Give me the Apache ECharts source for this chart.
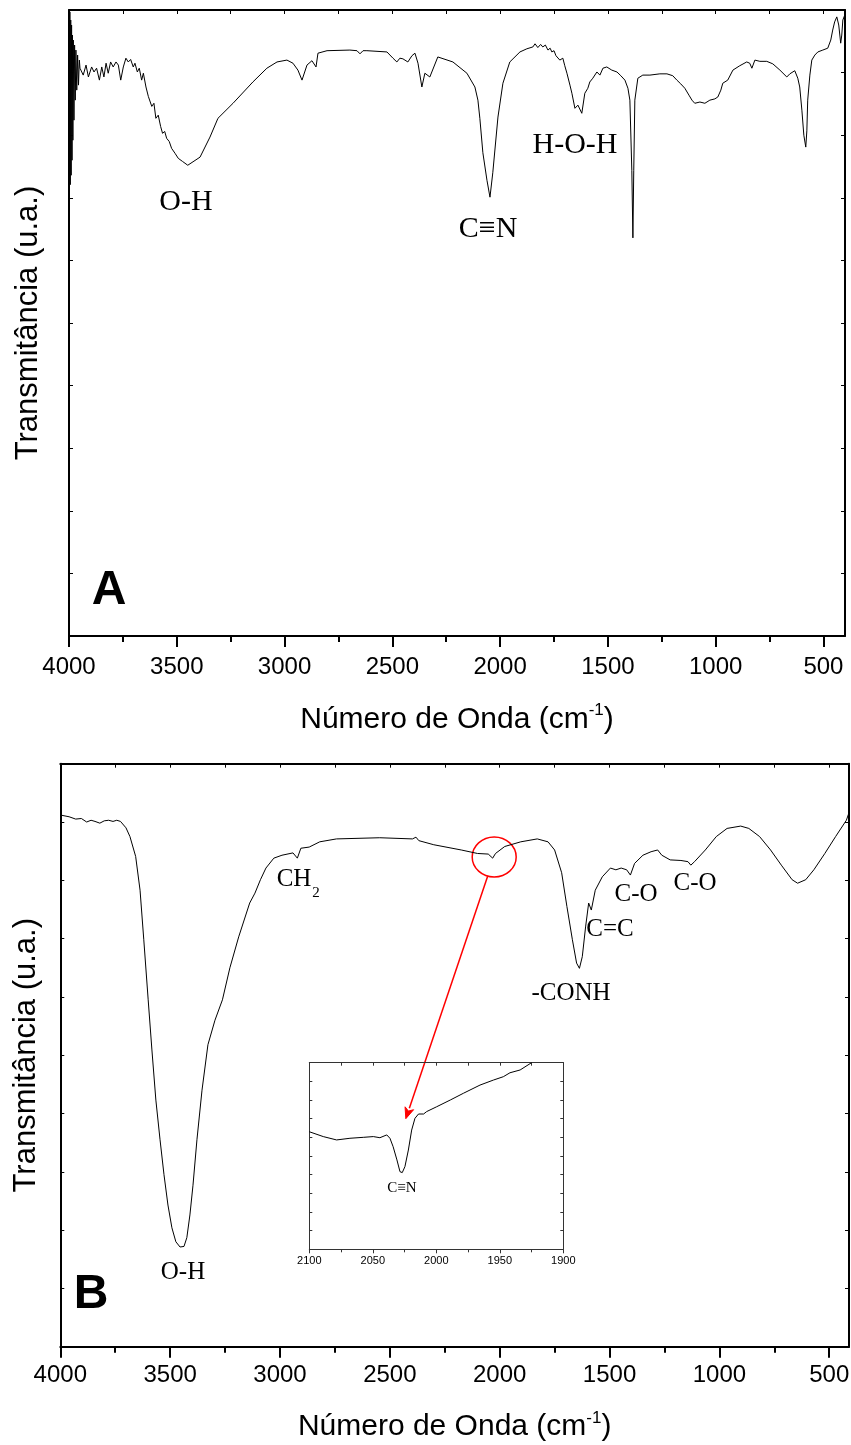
<!DOCTYPE html>
<html><head><meta charset="utf-8">
<script src="https://cdn.jsdelivr.net/npm/echarts@6/dist/echarts.min.js"></script>
<style>html,body{margin:0;padding:0;background:#fff}#c{width:851px;height:1445px}</style>
</head><body><div id="c"></div>
<script>
// ---------- DATA ----------
// Panel A : wavenumber (cm-1) and transmittance (a.u.)
const waveA = [4000,3998,3996,3994,3992,3990,3988,3986,3984,3982,3980,3977,3974,3971,3968,3964,3960,3956,3952,
3949,3934,3921,3910,3895,3884,3872,3859,3848,3838,3828,3818,3807,3795,3782,3771,3760,3748,3736,3725,3714,3702,3694,
3683,3674,3663,3655,3643,3632,3624,3616,3606,3597,3586,3575,3566,3556,3547,3535,3524,3508,3493,3473,3449,3392,3346,
3309,3239,3147,3082,3035,2989,2961,2938,2919,2896,2873,2854,2845,2803,2697,2664,2650,2636,2618,2525,2497,2479,2465,
2451,2428,2409,2395,2381,2363,2349,2326,2289,2219,2154,2117,2103,2094,2080,2061,2047,2034,2010,1987,1955,1908,1876,
1848,1838,1825,1812,1802,1790,1778,1768,1760,1750,1741,1732,1723,1709,1700,1690,1676,1667,1653,1639,1621,1607,1593,
1584,1570,1551,1537,1523,1505,1482,1458,1440,1421,1407,1398,1389,1384,1380,1375,1361,1338,1305,1259,1226,1199,1180,
1162,1143,1124,1110,1097,1073,1050,1027,1004,990,976,967,944,920,888,856,842,832,818,795,763,735,702,670,656,633,619,
610,600,591,582,577,573,563,554,540,526,503,480,466,457,448,438,429,420,415,410,401];
const transA = [100,71.3,99.7,72.1,98.4,73.6,97.6,76.0,96.0,79.2,95.2,82.4,94.4,85.6,93.6,87.2,92.8,88.0,92.0,
90.7,89.6,91.2,89.3,90.9,90.1,90.7,88.8,90.9,89.3,91.5,89.9,91.7,90.9,91.7,91.2,88.8,90.9,92.3,91.7,92.1,90.9,91.5,
90.1,90.7,88.8,89.9,87.7,86.2,86.4,84.6,85.1,82.7,83.2,81.4,80.3,80.6,79.5,79.0,77.9,77.1,76.3,75.8,75.2,76.5,79.7,
82.7,85.1,88.5,90.7,91.7,92.0,91.5,90.4,88.8,91.2,91.9,90.9,93.1,93.5,93.6,93.5,93.0,93.5,93.5,93.3,92.3,91.7,92.3,
92.2,91.7,92.7,93.1,91.5,87.7,89.9,89.3,92.5,91.7,89.9,87.7,85.6,82.7,77.2,72.8,70.1,74.0,82.9,88.3,91.7,93.3,93.8,
94.1,94.6,94.0,94.5,94.1,94.4,93.6,93.9,93.3,93.5,92.7,92.9,92.0,92.3,91.1,89.9,88.0,86.7,84.3,84.8,83.5,86.7,87.5,
88.5,89.1,90.1,89.6,90.7,90.9,90.4,90.1,89.5,88.8,87.5,85.6,74.4,63.6,74.4,85.6,89.1,89.6,89.6,89.8,89.8,89.5,88.8,
88.2,87.5,86.4,85.6,85.1,85.3,85.1,85.6,85.8,86.1,87.2,88.3,88.8,90.4,91.1,91.7,91.5,90.7,92.0,91.8,91.8,91.4,90.4,89.3,89.8,90.3,89.1,
87.7,84.0,80.0,78.1,80.7,85.6,89.6,92.0,92.8,93.3,93.6,93.9,95.2,96.8,98.1,98.9,97.6,94.7,96.0,98.4,99.2];

// Panel B
const waveB = [4000,3960,3930,3904,3880,3860,3842,3820,3800,3780,3760,3743,3726,3701,3683,3657,3637,3620,3600,3583,
3565,3546,3528,3510,3492,3474,3455,3437,3424,3410,3396,3378,3355,3328,3296,3262,3228,3188,3138,3114,3089,3064,3028,
2991,2941,2921,2905,2867,2819,2743,2546,2397,2381,2368,2300,2175,2101,2052,2032,2019,1977,1904,1829,1780,1750,1718,
1694,1669,1650,1637,1624,1609,1595,1583,1565,1533,1496,1471,1447,1422,1405,1386,1348,1311,1281,1262,1224,1175,1143,
1130,1113,1064,1014,965,903,866,817,767,718,669,644,607,570,520,471,422,410];
const transB = [91.2,90.9,90.5,90.6,90.0,90.3,90.1,89.8,90.2,90.3,90.1,90.3,90.1,89.0,87.5,84.1,78.3,69.8,59.5,50.9,
42.3,35.5,29.5,24.3,20.4,18.0,17.1,17.2,18.7,22.6,27.7,35.5,44.0,51.8,56.0,59.5,65.0,70.3,76.1,77.8,80.1,82.1,83.8,
84.3,84.7,83.8,85.5,85.7,86.6,87.1,87.3,87.1,87.4,86.8,86.1,85.2,84.6,84.5,83.8,84.6,85.8,86.6,87.1,86.6,85.2,81.3,
75.5,69.8,65.8,64.9,66.9,72.0,76.1,74.9,78.3,80.6,82.1,81.8,82.1,81.8,80.9,82.9,84.3,84.9,85.2,84.3,83.5,83.4,83.2,
82.6,83.2,85.2,87.5,88.9,89.3,88.9,87.5,85.2,82.6,80.1,79.5,80.1,81.8,84.6,87.5,90.3,91.6];

// Inset (zoom 2100-1900 cm-1)
const waveInset = [2100,2089,2078.5,2068,2057.5,2049.6,2044.4,2039,2036.5,2034,2031,2028.6,2026.8,2024.7,2022,
2019.4,2016.8,2014,2010,2007.6,1999.7,1989,1978.7,1965.6,1955,1947.2,1942,1934,1925];
const transInset = [63.0,60.4,58.6,59.5,60.0,60.4,59.8,61.3,59.5,55.0,47.9,41.6,41.1,44.3,53.2,63.9,70.2,72.5,72.5,
73.8,76.4,80.0,83.6,88.0,90.7,92.5,94.6,96.1,100];

// Tick values
const majorTicks = [500,1000,1500,2000,2500,3000,3500,4000];
const minorTicks = [750,1250,1750,2250,2750,3250,3750];
const allTicks = [500,750,1000,1250,1500,1750,2000,2250,2500,2750,3000,3250,3500,3750,4000];

// Annotation texts
const labelsA = ['O-H','C≡N','H-O-H'];
const labelsB = ['O-H','CH','-CONH','C=C','C-O','C-O'];
const circleAt = [2025, 84];      // panel B data coords of the highlighted band
const arrowTipAt = [2024, 70];    // inset data coords

// ---------- LAYOUT ----------
const SANS = 'Liberation Sans, Arial, sans-serif';
const SERIF = 'Liberation Serif, DejaVu Serif, Times New Roman, serif';
const gridA = {left:69, top:10, width:776, height:626};
const gridB = {left:60.3, top:763.7, width:788.7, height:583};
const gridI = {left:309.3, top:1062.7, width:254, height:186.6};

const zip = (xs, ys) => xs.map((x,i)=>[x, ys[i]]);
const black = '#000';
const plain = v => String(v);

function mainX(gi, xmin, gap, margin) {
  return [
    {type:'value', gridIndex:gi, min:xmin, max:4000, inverse:true, position:'bottom',
     axisLine:{show:true, onZero:false, lineStyle:{color:black, width:2}},
     axisTick:{show:true, inside:false, length:11, customValues:majorTicks, lineStyle:{color:black, width:2}},
     axisLabel:{show:true, customValues:majorTicks, formatter:plain, fontSize:24, color:black, fontFamily:SANS, margin:margin, hideOverlap:false},
     splitLine:{show:false},
     name:'Número de Onda (cm{sup|-1})', nameLocation:'middle', nameGap:gap,
     nameTextStyle:{fontSize:30, fontFamily:SANS, color:black, lineHeight:35,
       rich:{sup:{fontSize:17, lineHeight:17, verticalAlign:'top', fontFamily:SANS, color:black}}}},
    {type:'value', gridIndex:gi, min:xmin, max:4000, inverse:true, position:'bottom', offset:0,
     axisLine:{show:false}, axisTick:{show:true, inside:false, length:6, customValues:minorTicks, lineStyle:{color:black, width:2}},
     axisLabel:{show:false}, splitLine:{show:false}},
    {type:'value', gridIndex:gi, min:xmin, max:4000, inverse:true, position:'top',
     axisLine:{show:true, onZero:false, lineStyle:{color:black, width:2}},
     axisTick:{show:true, inside:true, length:4, customValues:allTicks, lineStyle:{color:black, width:1}},
     axisLabel:{show:false}, splitLine:{show:false}}
  ];
}
function mainY(gi, gap) {
  return [
    {type:'value', gridIndex:gi, min:0, max:100, interval:10, position:'left',
     axisLine:{show:true, onZero:false, lineStyle:{color:black, width:2}},
     axisTick:{show:true, inside:true, length:4, lineStyle:{color:black, width:1}},
     axisLabel:{show:false}, splitLine:{show:false},
     name:'Transmitância (u.a.)', nameLocation:'middle', nameRotate:90, nameGap:gap,
     nameTextStyle:{fontSize:31, fontFamily:SANS, color:black}},
    {type:'value', gridIndex:gi, min:0, max:100, interval:10, position:'right',
     axisLine:{show:true, onZero:false, lineStyle:{color:black, width:2}},
     axisTick:{show:true, inside:true, length:4, lineStyle:{color:black, width:1}},
     axisLabel:{show:false}, splitLine:{show:false}}
  ];
}
const insetColor = '#333';
const xAxes = [...mainX(0, 400, 66, 19), ...mainX(1, 410, 63, 17),
  {type:'value', gridIndex:2, min:1900, max:2100, interval:50, inverse:true, position:'bottom',
   axisLine:{show:true, onZero:false, lineStyle:{color:insetColor, width:1}},
   axisTick:{show:true, inside:false, length:4, lineStyle:{color:insetColor}},
   minorTick:{show:true, splitNumber:2, length:3, lineStyle:{color:insetColor}},
   axisLabel:{fontSize:11, color:black, fontFamily:SANS, margin:6, formatter:plain, hideOverlap:false}, splitLine:{show:false}},
  {type:'value', gridIndex:2, min:1900, max:2100, interval:25, inverse:true, position:'top',
   axisLine:{show:true, onZero:false, lineStyle:{color:insetColor, width:1}},
   axisTick:{show:true, inside:true, length:3, lineStyle:{color:insetColor}},
   axisLabel:{show:false}, splitLine:{show:false}}
];
const yAxes = [...mainY(0, 25), ...mainY(1, 18),
  {type:'value', gridIndex:2, min:0, max:100, interval:10, position:'left',
   axisLine:{show:true, onZero:false, lineStyle:{color:insetColor, width:1}},
   axisTick:{show:true, inside:true, length:3, lineStyle:{color:insetColor}},
   axisLabel:{show:false}, splitLine:{show:false}},
  {type:'value', gridIndex:2, min:0, max:100, interval:10, position:'right',
   axisLine:{show:true, onZero:false, lineStyle:{color:insetColor, width:1}},
   axisTick:{show:true, inside:true, length:3, lineStyle:{color:insetColor}},
   axisLabel:{show:false}, splitLine:{show:false}}
];

const lineSeries = (name, xi, yi, data) => ({
  name, type:'line', xAxisIndex:xi, yAxisIndex:yi, data, showSymbol:false, symbol:'none',
  smooth:false, animation:false, lineStyle:{color:black, width:1}, clip:true
});

const chart = echarts.init(document.getElementById('c'), null, {renderer:'canvas'});
chart.setOption({
  animation:false,
  backgroundColor:'#fff',
  grid:[gridA, gridB, gridI].map(g=>Object.assign({containLabel:false, outerBoundsMode:'none'}, g)),
  xAxis:xAxes, yAxis:yAxes,
  series:[
    lineSeries('A', 0, 0, zip(waveA, transA)),
    lineSeries('B', 3, 2, zip(waveB, transB)),
    lineSeries('Inset', 6, 4, zip(waveInset, transInset))
  ]
});

// ---------- ANNOTATIONS ----------
const txt = (text, x, y, size, family, weight) => ({
  type:'text', x, y, silent:true,
  style:{text, fontSize:size, fontFamily:family, fontWeight:weight||'normal', fill:black, align:'center', verticalAlign:'middle'}
});
const c = chart.convertToPixel({seriesIndex:1}, circleAt);
const t = chart.convertToPixel({seriesIndex:2}, arrowTipAt);
const rx = 22, ry = 20;
let dx = t[0]-c[0], dy = t[1]-c[1];
const len = Math.hypot(dx, dy); const ux = dx/len, uy = dy/len;
const ang = Math.atan2(uy*rx, ux*ry);
const s = [c[0] + rx*Math.cos(ang), c[1] + ry*Math.sin(ang)];
const headL = 11, headW = 4.5;
const base = [t[0]-ux*headL, t[1]-uy*headL];
const px = -uy, py = ux;
const red = '#ff0000';

chart.setOption({graphic:[
  txt(labelsA[0], 186, 202, 30, SERIF),
  txt(labelsA[1], 488, 229, 30, SERIF),
  txt(labelsA[2], 575, 145, 30, SERIF),
  txt('A', 109, 591, 48, SANS, 'bold'),
  txt(labelsB[0], 183, 1272, 25, SERIF),
  txt(labelsB[1], 294, 879, 25, SERIF),
  txt('2', 316, 893, 15, SERIF),
  txt(labelsB[2], 571, 993, 25, SERIF),
  txt(labelsB[3], 610, 929, 25, SERIF),
  txt(labelsB[4], 636, 894, 25, SERIF),
  txt(labelsB[5], 695, 883, 25, SERIF),
  txt('B', 91, 1295, 48, SANS, 'bold'),
  txt('C≡N', 402, 1188, 15, SERIF),
  {type:'ellipse', silent:true, shape:{cx:c[0], cy:c[1], rx, ry}, style:{fill:null, stroke:red, lineWidth:1.5}},
  {type:'line', silent:true, shape:{x1:s[0], y1:s[1], x2:base[0], y2:base[1]}, style:{stroke:red, lineWidth:1.5}},
  {type:'polygon', silent:true, shape:{points:[[t[0],t[1]],[base[0]+px*headW, base[1]+py*headW],[base[0]+ux*3, base[1]+uy*3],[base[0]-px*headW, base[1]-py*headW]]},
   style:{fill:red, stroke:red, lineWidth:1}}
]});
</script>
</body></html>
